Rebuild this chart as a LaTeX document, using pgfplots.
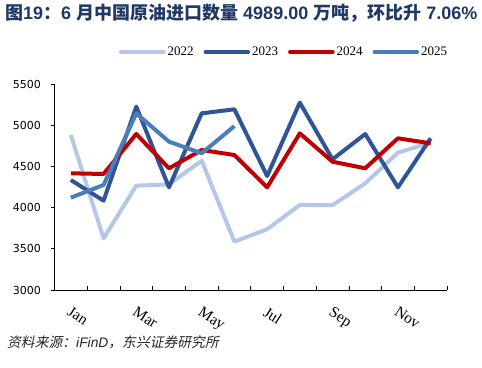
\documentclass[border=0pt]{standalone}
\usepackage{pgfplots}
\pgfplotsset{compat=1.18}
\usepackage{fontspec}
\setmainfont{Liberation Serif}
\newfontfamily\cjk{Noto Sans CJK SC}
\newfontfamily\cjki[FakeSlant=0.2]{Noto Sans CJK SC}
\newfontfamily\sans{Liberation Sans}
\newfontfamily\ticksans{DejaVu Sans}
\definecolor{c22}{RGB}{180,199,231}
\definecolor{c23}{RGB}{47,85,151}
\definecolor{c24}{RGB}{192,0,0}
\definecolor{c25}{RGB}{74,126,187}
\definecolor{titleblue}{RGB}{31,56,100}
\newcommand\TC{\cjk\bfseries}
\newcommand\TL{\sans\bfseries}
\begin{document}
\begin{tikzpicture}
\useasboundingbox (0,0) rectangle (482bp,368bp);
\node[anchor=base west, inner sep=0pt, text=titleblue, font=\fontsize{18bp}{20bp}\selectfont] at (5bp,348bp)
 {{\TC 图}{\TL 19}{\TC ：}{\TL 6\ }{\TC 月中国原油进口数量}{\TL \ 4989.00\ }{\TC 万吨，环比升}{\TL \ 7.06\%}};
\node[anchor=base west, inner sep=0pt, text=black!85, font=\fontsize{13.8bp}{15bp}\selectfont] at (7bp,21bp)
 {{\cjki 资料来源：}{\sans\itshape iFinD}{\cjki ，东兴证券研究所}};
\begin{axis}[
 at={(54.5bp,78bp)}, anchor=south west, scale only axis,
 width=392.5bp, height=206bp,
 xmin=0.5, xmax=12.5, ymin=3000, ymax=5500,
 axis x line*=bottom, axis y line*=left,
 axis line style={line width=0.8bp, black},
 xtick={1,3,5,7,9,11}, xticklabels={Jan,Mar,May,Jul,Sep,Nov},
 minor xtick={0.5,1.5,...,12.5},
 ytick={3000,3500,...,5500},
 tick align=outside, major tick length=4bp, minor tick length=4bp,
 major x tick style={draw=none},
 minor x tick style={yshift=4bp, black, line width=0.7bp},
 major y tick style={black, line width=0.7bp},
 /pgf/number format/assume math mode=true,
 /pgf/number format/1000 sep={},
 scaled y ticks=false,
 yticklabel style={font=\ticksans\fontsize{11bp}{12bp}\selectfont, xshift=-6bp},
 xticklabel style={font=\fontsize{15.5bp}{17bp}\selectfont, rotate=-33, anchor=north west, xshift=4bp, yshift=-6bp},
 no markers,
 legend columns=4,
 legend style={draw=none, fill=none, at={(0.585,1.155)}, anchor=center,
   font=\fontsize{13bp}{14bp}\selectfont, inner sep=0pt,
   /tikz/every even column/.append style={column sep=8bp}},
 legend image code/.code={\draw[#1, line width=3.5bp, line cap=round] (0bp,0bp) -- (43bp,0bp);},
 every axis plot/.append style={line width=4bp, line join=round},
]
\addplot[c22] coordinates {(1,4881) (2,3627) (3,4266) (4,4282) (5,4569) (6,3587) (7,3737) (8,4032) (9,4030) (10,4294) (11,4667) (12,4788)};
\addlegendentry{2022}
\addplot[c23] coordinates {(1,4335) (2,4084) (3,5225) (4,4246) (5,5144) (6,5193) (7,4383) (8,5274) (9,4586) (10,4893) (11,4246) (12,4841)};
\addlegendentry{2023}
\addplot[c24] coordinates {(1,4416) (2,4408) (3,4893) (4,4477) (5,4699) (6,4638) (7,4246) (8,4901) (9,4557) (10,4477) (11,4841) (12,4780)};
\addlegendentry{2024}
\addplot[c25] coordinates {(1,4121) (2,4274) (3,5144) (4,4800) (5,4659) (6,4989)};
\addlegendentry{2025}
\end{axis}
\end{tikzpicture}
\end{document}
